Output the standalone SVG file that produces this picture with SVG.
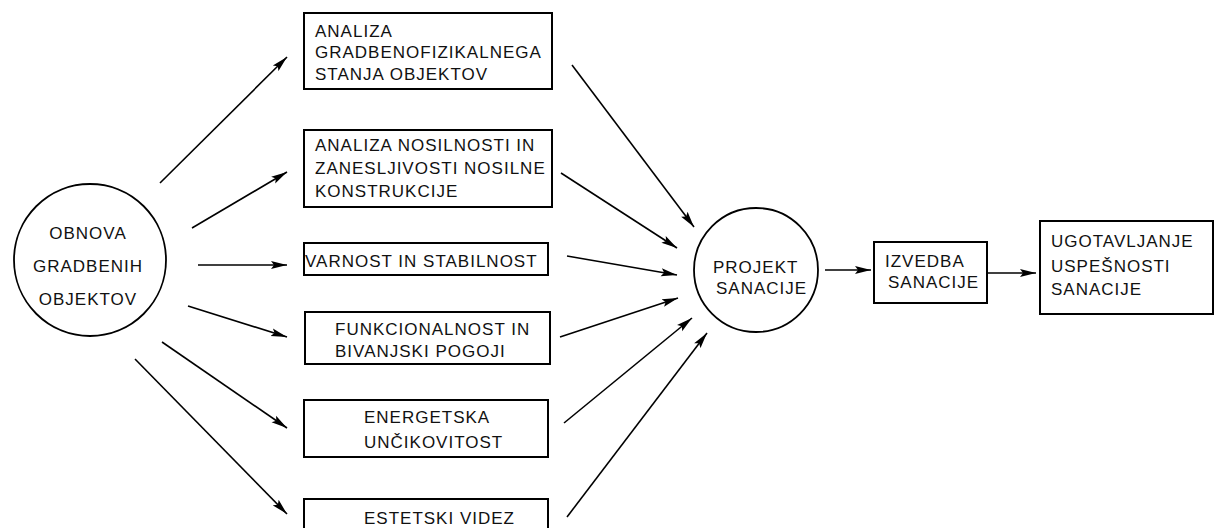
<svg xmlns="http://www.w3.org/2000/svg" width="1216" height="528" viewBox="0 0 1216 528">
<style>
text{font-family:"Liberation Sans",Arial,sans-serif;font-size:17px;letter-spacing:1px;fill:#111}
.box{fill:#fff;stroke:#000;stroke-width:2}
.circ{fill:#fff;stroke:#000;stroke-width:1.8}
.con line{stroke:#000;stroke-width:1.6;marker-end:url(#ah)}
</style>
<defs>
<marker id="ah" markerUnits="userSpaceOnUse" markerWidth="18" markerHeight="10" refX="16" refY="5" orient="auto">
<path d="M0,1 L16,5 L0,9 L3,5 z" fill="#000"/>
</marker>
</defs>
<rect width="1216" height="528" fill="#fff"/>
<g id="obnova">
<circle class="circ" cx="90" cy="260" r="76"/>
<text x="88" y="239" text-anchor="middle">OBNOVA</text>
<text x="88" y="272" text-anchor="middle">GRADBENIH</text>
<text x="88" y="305" text-anchor="middle">OBJEKTOV</text>
</g>
<g id="box1">
<rect class="box" x="304" y="13" width="248" height="76"/>
<text x="315" y="37">ANALIZA</text>
<text x="315" y="58">GRADBENOFIZIKALNEGA</text>
<text x="315" y="80">STANJA OBJEKTOV</text>
</g>
<g id="box2">
<rect class="box" x="304" y="130" width="248" height="77"/>
<text x="315" y="151">ANALIZA NOSILNOSTI IN</text>
<text x="315" y="174">ZANESLJIVOSTI NOSILNE</text>
<text x="315" y="197">KONSTRUKCIJE</text>
</g>
<g id="box3">
<rect class="box" x="304" y="243" width="244" height="32"/>
<text x="305" y="267">VARNOST IN STABILNOST</text>
</g>
<g id="box4">
<rect class="box" x="305" y="312" width="245" height="52"/>
<text x="335" y="335">FUNKCIONALNOST IN</text>
<text x="335" y="357">BIVANJSKI POGOJI</text>
</g>
<g id="box5">
<rect class="box" x="304" y="400" width="244" height="57"/>
<text x="364" y="423">ENERGETSKA</text>
<text x="364" y="448">UNČIKOVITOST</text>
</g>
<g id="box6">
<rect class="box" x="304" y="499" width="244" height="40"/>
<text x="364" y="524">ESTETSKI VIDEZ</text>
</g>
<g id="projekt">
<circle class="circ" cx="756" cy="270" r="62"/>
<text x="713" y="273">PROJEKT</text>
<text x="716" y="294">SANACIJE</text>
</g>
<g id="izvedba">
<rect class="box" x="874" y="242" width="113" height="61"/>
<text x="885" y="267">IZVEDBA</text>
<text x="888" y="288">SANACIJE</text>
</g>
<g id="ugotavljanje">
<rect class="box" x="1040" y="221" width="173" height="93"/>
<text x="1051" y="247">UGOTAVLJANJE</text>
<text x="1051" y="272">USPEŠNOSTI</text>
<text x="1051" y="295">SANACIJE</text>
</g>
<g id="connectors" class="con">
<line x1="160" y1="183" x2="287" y2="57"/>
<line x1="192" y1="228" x2="287" y2="172"/>
<line x1="198" y1="265" x2="287" y2="265"/>
<line x1="188" y1="306" x2="287" y2="337"/>
<line x1="162" y1="342" x2="287" y2="428"/>
<line x1="135" y1="359" x2="287" y2="514"/>
<line x1="572" y1="65" x2="694" y2="227"/>
<line x1="561" y1="173" x2="677" y2="248"/>
<line x1="567" y1="256" x2="677" y2="275"/>
<line x1="560" y1="337" x2="678" y2="298"/>
<line x1="564" y1="423" x2="692" y2="318"/>
<line x1="567" y1="517" x2="707" y2="333"/>
<line x1="825" y1="270" x2="871" y2="270"/>
<line x1="988" y1="273" x2="1036" y2="273"/>
</g>
</svg>
